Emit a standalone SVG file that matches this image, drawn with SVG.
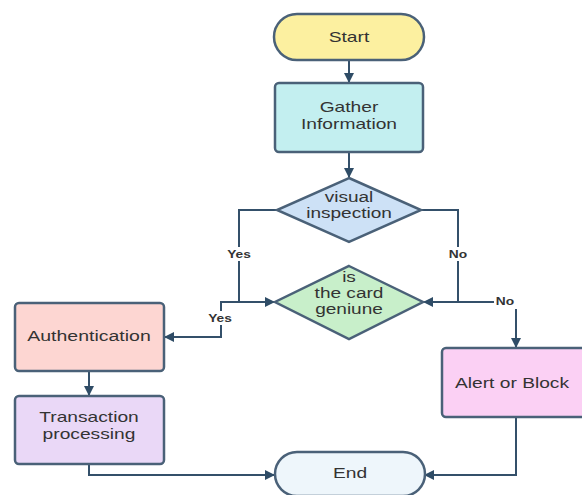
<svg xmlns="http://www.w3.org/2000/svg" width="582" height="495" viewBox="0 0 582 495">
<defs>
<style>
.n{stroke:#4a6178;stroke-width:2.5}
.t{font-family:"Liberation Sans",Arial,sans-serif;font-size:15px;fill:#333;text-anchor:middle}
.d{font-size:14px}
.c{fill:none;stroke:#34506a;stroke-width:2}
.l{font-family:"Liberation Sans",Arial,sans-serif;font-size:11px;font-weight:bold;fill:#333;text-anchor:middle}
.lb{fill:#fff}
</style>
<marker id="a" markerWidth="10" markerHeight="10" refX="9" refY="5" orient="auto" markerUnits="userSpaceOnUse">
<path d="M0,0 L10,5 L0,10 Z" fill="#2f4c66"/>
</marker>
</defs>
<rect width="582" height="495" fill="#fff"/>
<g id="connectors">
<path class="c" d="M349,60 V82" marker-end="url(#a)"/>
<path class="c" d="M349,152 V177" marker-end="url(#a)"/>
<path class="c" d="M277,210 H239 V302 H274" marker-end="url(#a)"/>
<path class="c" d="M421,210 H458 V302 H424" marker-end="url(#a)"/>
<path class="c" d="M458,302 H494"/>
<path class="c" d="M516,309 V347" marker-end="url(#a)"/>
<path class="c" d="M239,302 H221 V337 H165" marker-end="url(#a)"/>
<path class="c" d="M89,371 V395" marker-end="url(#a)"/>
<path class="c" d="M89,464 V475 H274" marker-end="url(#a)"/>
<path class="c" d="M516,417 V475 H425" marker-end="url(#a)"/>
<rect class="lb" x="225" y="247" width="28" height="14"/>
<text class="l" transform="translate(239,258) scale(1.25,1)">Yes</text>
<rect class="lb" x="446" y="247" width="24" height="14"/>
<text class="l" transform="translate(458,258) scale(1.25,1)">No</text>
<rect class="lb" x="206" y="311" width="28" height="14"/>
<text class="l" transform="translate(220,322) scale(1.25,1)">Yes</text>
<text class="l" transform="translate(505,305) scale(1.25,1)">No</text>
</g>
<g id="start">
<rect class="n" x="274" y="14" width="150" height="46" rx="23" fill="#fcf0a0"/>
<text class="t" transform="translate(349,42) scale(1.28,1)">Start</text>
</g>
<g id="gather">
<rect class="n" x="275" y="83" width="148" height="69" rx="4" fill="#c3eff0"/>
<text class="t" transform="translate(349,112) scale(1.28,1)">Gather</text>
<text class="t" transform="translate(349,129) scale(1.28,1)">Information</text>
</g>
<g id="visual">
<polygon class="n" points="349,178 421,210 349,242 277,210" fill="#cde1f6"/>
<text class="t d" transform="translate(349,202) scale(1.36,1)">visual</text>
<text class="t d" transform="translate(349,218) scale(1.36,1)">inspection</text>
</g>
<g id="genuine">
<polygon class="n" points="349,266 423,302 349,339 275,302" fill="#c8efca"/>
<text class="t d" transform="translate(349,282) scale(1.36,1)">is</text>
<text class="t d" transform="translate(349,298) scale(1.36,1)">the card</text>
<text class="t d" transform="translate(349,314) scale(1.36,1)">geniune</text>
</g>
<g id="auth">
<rect class="n" x="15" y="303" width="149" height="68" rx="4" fill="#fdd6d2"/>
<text class="t" transform="translate(89,341) scale(1.3,1)">Authentication</text>
</g>
<g id="transaction">
<rect class="n" x="15" y="396" width="149" height="68" rx="4" fill="#ead8f7"/>
<text class="t" transform="translate(89,422) scale(1.28,1)">Transaction</text>
<text class="t" transform="translate(89,439) scale(1.28,1)">processing</text>
</g>
<g id="alert">
<rect class="n" x="442" y="348" width="148" height="69" rx="4" fill="#fbd0f4"/>
<text class="t" transform="translate(512,388) scale(1.28,1)">Alert or Block</text>
</g>
<g id="end">
<rect class="n" x="275" y="452" width="150" height="44" rx="22" fill="#eef6fb"/>
<text class="t" transform="translate(350,478) scale(1.28,1)">End</text>
</g>
</svg>
